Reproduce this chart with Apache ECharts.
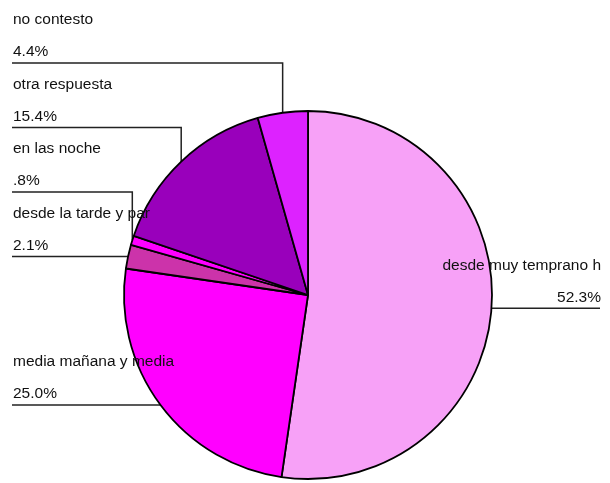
<!DOCTYPE html>
<html>
<head>
<meta charset="utf-8">
<script src="https://cdn.jsdelivr.net/npm/echarts@6/dist/echarts.min.js"></script>
<style>
  html, body { margin: 0; padding: 0; background: #ffffff; }
  #chart { width: 610px; height: 483px; }
</style>
</head>
<body>
<div id="chart"></div>
<script>
// Survey answers and their shares (percent)
const categories = [
  'desde muy temprano h',
  'media mañana y media',
  'desde la tarde y par',
  'en las noche',
  'otra respuesta',
  'no contesto'
];
const percents = [52.3, 25.0, 2.1, 0.8, 15.4, 4.4];
const sliceColors = ['#F7A1F7', '#FF00FF', '#CC33AA', '#FF00FF', '#9900BB', '#DD22FF'];

// Pie geometry (pixels)
const CX = 308, CY = 295, R = 184;
const LABEL_GAP = 64.5;        // vertical room needed by one two-line label
const LEFT_X = 13, RIGHT_X = 601;

function pctText(v) {
  let s = v.toFixed(1);
  if (s.startsWith('0')) s = s.slice(1);
  return s + '%';
}

// Rim point at each slice's mid-angle, clockwise from 12 o'clock
const total = percents.reduce((a, b) => a + b, 0);
let acc = 0;
const anchors = percents.map(v => {
  const mid = (acc + v / 2) / total * 2 * Math.PI;
  acc += v;
  return { x: CX + R * Math.sin(mid), y: CY - R * Math.cos(mid), left: Math.sin(mid) < 0 };
});

// Stack the left-hand labels from the bottom up so they never collide
const lineY = anchors.map(a => a.y);
const leftIdx = anchors.map((a, i) => i).filter(i => anchors[i].left)
  .sort((a, b) => anchors[b].y - anchors[a].y);
let prevY = Infinity;
leftIdx.forEach(i => {
  const y = Math.min(anchors[i].y, prevY - LABEL_GAP);
  lineY[i] = y;
  prevY = y;
});

const chart = echarts.init(document.getElementById('chart'), null, { renderer: 'canvas' });

chart.setOption({
  animation: false,
  backgroundColor: '#ffffff',
  series: [{
    type: 'pie',
    center: [CX, CY],
    radius: R,
    startAngle: 90,
    clockwise: true,
    avoidLabelOverlap: false,
    emphasis: { disabled: true },
    data: categories.map((name, i) => ({
      name: name,
      value: percents[i],
      itemStyle: { color: sliceColors[i] }
    })),
    itemStyle: { borderColor: '#000000', borderWidth: 1.8 },
    label: {
      show: true,
      position: 'outside',
      overflow: 'none',
      formatter: p => p.name + '\n' + pctText(p.value),
      fontFamily: '"Liberation Sans", Arial, sans-serif',
      fontSize: 15.5,
      lineHeight: 32,
      color: '#111111'
    },
    labelLine: {
      show: true,
      length: 10,
      length2: 10,
      lineStyle: { color: '#222222', width: 1.5 }
    },
    labelLayout: function (p) {
      const i = p.dataIndex;
      const a = p.labelLinePoints ? p.labelLinePoints[0] : [anchors[i].x, anchors[i].y];
      const left = anchors[i].left;
      const ly = Math.abs(lineY[i] - a[1]) < 3 ? a[1] : lineY[i];
      const endX = left ? LEFT_X - 1 : RIGHT_X - 1;
      return {
        x: left ? LEFT_X : RIGHT_X,
        y: ly - 59,
        align: left ? 'left' : 'right',
        verticalAlign: 'top',
        labelLinePoints: [[a[0], a[1]], [a[0], ly], [endX, ly]]
      };
    }
  }]
});
</script>
</body>
</html>
